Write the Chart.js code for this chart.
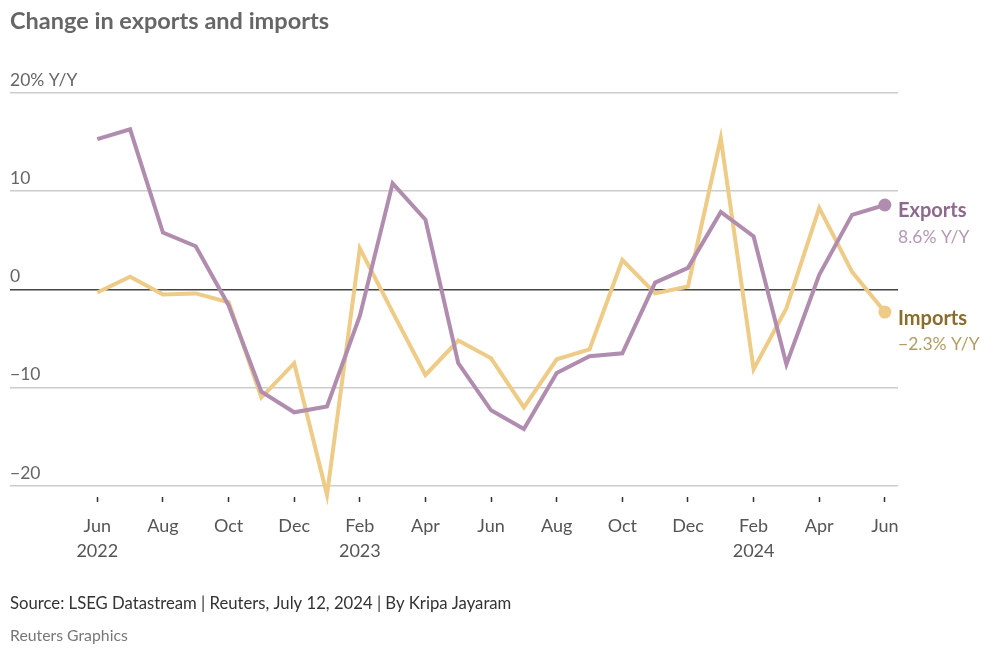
<!DOCTYPE html>
<html>
<head>
<meta charset="utf-8">
<script src="https://cdn.jsdelivr.net/npm/chart.js@4.4.1/dist/chart.umd.min.js"></script>
<style>
  html, body { margin: 0; padding: 0; background: #fff; }
  #wrap { width: 1000px; height: 651px; position: relative; }
</style>
</head>
<body>
<div id="wrap"><canvas id="c" width="1000" height="651"></canvas></div>
<script>
// ---- Data (monthly, Jun 2022 – Jun 2024) ----
const months = ['Jun 2022','Jul 2022','Aug 2022','Sep 2022','Oct 2022','Nov 2022','Dec 2022',
  'Jan 2023','Feb 2023','Mar 2023','Apr 2023','May 2023','Jun 2023','Jul 2023','Aug 2023',
  'Sep 2023','Oct 2023','Nov 2023','Dec 2023','Jan 2024','Feb 2024','Mar 2024','Apr 2024',
  'May 2024','Jun 2024'];
const exportsYY = [15.3, 16.3, 5.8, 4.4, -1.6, -10.4, -12.5, -11.9, -2.7, 10.8, 7.1, -7.5,
  -12.3, -14.2, -8.5, -6.8, -6.5, 0.7, 2.2, 7.9, 5.4, -7.6, 1.5, 7.6, 8.6];
const importsYY = [-0.3, 1.3, -0.5, -0.4, -1.3, -11.0, -7.5, -20.9, 4.2, -2.3, -8.7, -5.2,
  -7.0, -12.0, -7.1, -6.1, 3.0, -0.4, 0.3, 15.4, -8.1, -1.9, 8.3, 1.8, -2.3];
const xTickLabels = [['Jun','2022'],['Aug'],['Oct'],['Dec'],['Feb','2023'],['Apr'],['Jun'],
  ['Aug'],['Oct'],['Dec'],['Feb','2024'],['Apr'],['Jun']];
const yTickValues = [-20, -10, 0, 10, 20];
const seriesNames = ['Exports', 'Imports'];
const titleText = 'Change in exports and imports';
const sourceText = 'Source: LSEG Datastream | Reuters, July 12, 2024 | By Kripa Jayaram';
const creditText = 'Reuters Graphics';

const FONT = 'Lato, "Source Sans Pro", "Noto Sans", sans-serif';
const purple = '#b08dae';
const gold = '#eecb86';

const lastIdx = months.length - 1;
const toPoints = arr => arr.map((v, i) => ({ x: i, y: v }));

const textPlugin = {
  id: 'texts',
  afterDraw(chart) {
    const ctx = chart.ctx;
    const ca = chart.chartArea;
    const ys = chart.scales.y;
    ctx.save();
    ctx.textBaseline = 'middle';
    ctx.textAlign = 'left';
    // title
    ctx.fillStyle = '#666';
    ctx.font = 'bold 23.5px ' + FONT;
    ctx.fillText(titleText, 10, 21);
    // footer
    ctx.fillStyle = '#333';
    ctx.font = '16.7px ' + FONT;
    ctx.fillText(sourceText, 10, 604);
    ctx.fillStyle = '#777';
    ctx.font = '15.8px ' + FONT;
    ctx.fillText(creditText, 10, 636);
    // end labels
    const labels = [
      { name: seriesNames[0], val: exportsYY[lastIdx], c1: '#8d6a8d', c2: '#b697b4' },
      { name: seriesNames[1], val: importsYY[lastIdx], c1: '#8a6c2b', c2: '#b39c63' }
    ];
    labels.forEach(l => {
      const y = ys.getPixelForValue(l.val) + 6;
      ctx.fillStyle = l.c1;
      ctx.font = 'bold 20px ' + FONT;
      ctx.fillText(l.name, ca.right, y);
      ctx.fillStyle = l.c2;
      ctx.font = '17.5px ' + FONT;
      const s = (l.val < 0 ? '\u2212' : '') + Math.abs(l.val).toFixed(1) + '% Y/Y';
      ctx.fillText(s, ca.right, y + 26);
    });
    ctx.restore();
  }
};

new Chart(document.getElementById('c'), {
  type: 'line',
  data: {
    datasets: [
      {
        label: seriesNames[0],
        data: toPoints(exportsYY),
        borderColor: purple,
        backgroundColor: purple,
        borderWidth: 4,
        pointRadius: ctx => ctx.dataIndex === lastIdx ? 6.5 : 0,
        pointBorderWidth: 0,
        pointHoverRadius: 0,
        tension: 0,
        clip: false
      },
      {
        label: seriesNames[1],
        data: toPoints(importsYY),
        borderColor: gold,
        backgroundColor: gold,
        borderWidth: 4,
        pointRadius: ctx => ctx.dataIndex === lastIdx ? 6.5 : 0,
        pointBorderWidth: 0,
        pointHoverRadius: 0,
        tension: 0,
        clip: false
      }
    ]
  },
  options: {
    responsive: false,
    animation: false,
    events: [],
    layout: { padding: { left: 10, right: 102, top: 93, bottom: 94 } },
    plugins: { legend: { display: false }, tooltip: { enabled: false }, title: { display: false } },
    scales: {
      x: {
        type: 'linear',
        min: -2.66,
        max: 24.4,
        afterBuildTicks: s => { s.ticks = xTickLabels.map((_, i) => ({ value: i * 2 })); },
        afterFit: s => { s.height = 60; },
        border: { display: false },
        grid: { drawOnChartArea: false, drawTicks: true, tickLength: 5, tickColor: '#333', tickWidth: 1.5 },
        ticks: {
          autoSkip: false,
          maxRotation: 0,
          padding: 12,
          color: '#555',
          font: { family: FONT, size: 18, lineHeight: 1.38 },
          callback: v => xTickLabels[v / 2]
        }
      },
      y: {
        min: -21.12,
        max: 20,
        afterBuildTicks: s => { s.ticks = yTickValues.map(v => ({ value: v })); },
        afterFit: s => { s.width = 0; },
        border: { display: false },
        grid: {
          drawTicks: false,
          color: ctx => ctx.tick && ctx.tick.value === 0 ? '#444' : '#ccc',
          lineWidth: ctx => 1.5
        },
        ticks: {
          mirror: true,
          padding: 0,
          labelOffset: -13,
          color: '#666',
          font: { family: FONT, size: 17.5 },
          callback: v => v === 20 ? '20% Y/Y' : (v < 0 ? '\u2212' + Math.abs(v) : String(v))
        }
      }
    }
  },
  plugins: [textPlugin]
});
</script>
</body>
</html>
